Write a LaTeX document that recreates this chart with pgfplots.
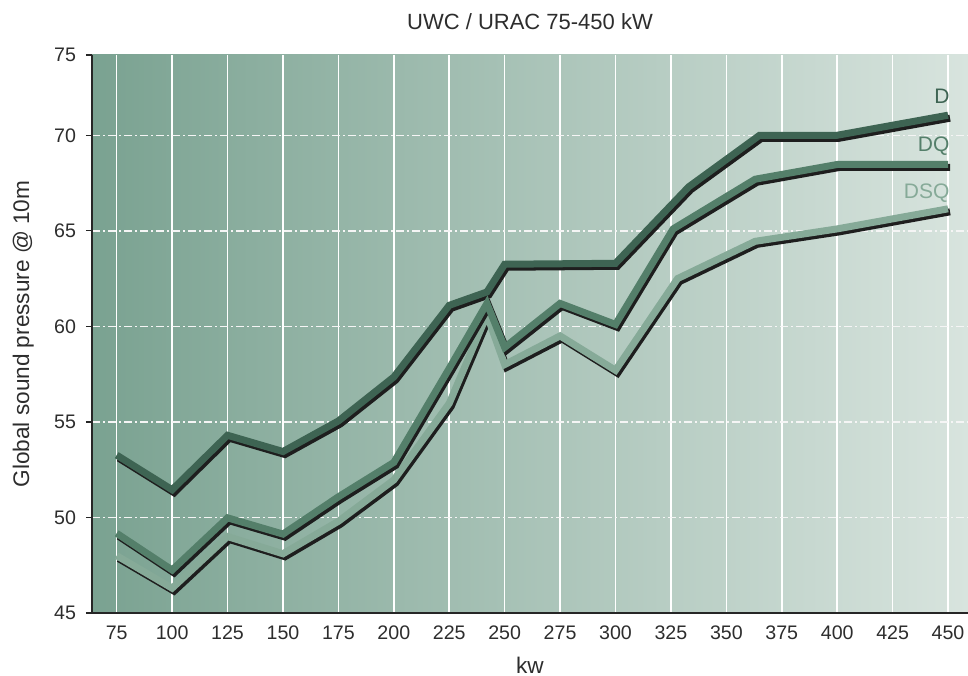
\documentclass[border=0pt]{standalone}
\usepackage{fontspec}
\setmainfont{Liberation Sans}
\usepackage{pgfplots}
\usepackage{pgfplotstable}
\pgfplotsset{compat=1.18}
\definecolor{bgl}{RGB}{122,162,145}
\definecolor{bgr}{RGB}{216,228,222}
\definecolor{cD}{RGB}{62,100,83}
\definecolor{cDQ}{RGB}{84,127,106}
\definecolor{cDSQ}{RGB}{134,170,152}
\definecolor{shad}{RGB}{30,30,30}
\definecolor{txt}{RGB}{45,45,45}

\pgfplotstableread{
x y
75 53.26
100 51.45
125 54.3
150 53.45
175 55.05
200 57.35
225 61.1
242 61.8
250 63.25
300 63.3
333 67.3
365 70.0
400 70.0
450 71.05
}\dataD

\pgfplotstableread{
x y
75 49.17
100 47.25
125 49.98
150 49.13
175 51.08
200 52.88
225 57.8
242 61.2
250 58.9
275 61.2
300 60.1
326 65.1
363 67.7
400 68.47
450 68.47
}\dataDQ

\pgfplotstableread{
x y
75 48.0
100 46.3
125 49.0
150 48.1
175 49.8
200 51.96
225 55.97
242 60.6
250 58.0
275 59.5
300 57.7
328 62.5
363 64.45
400 65.1
450 66.15
}\dataDSQ

\begin{document}
\begin{tikzpicture}
\begin{axis}[
  name=ax,
  scale only axis,
  width=438pt, height=279pt,
  xmin=63.86, xmax=459, ymin=45, ymax=74.2,
  axis lines=left,
  axis line style={-, draw=black!85, line width=1pt},
  axis background/.style={shade, left color=bgl, right color=bgr},
  xtick={75,100,...,450},
  ytick={45,50,...,70},
  extra y ticks={74.2}, extra y tick labels={75},
  extra y tick style={grid=none},
  xmajorgrids, ymajorgrids,
  x grid style={white, line width=0.75pt},
  y grid style={white!92!gray, line width=0.7pt, dash pattern=on 4pt off 1.5pt on 1pt off 1.5pt},
  xtick style={draw=none},
  ytick style={draw=black!85, line width=0.6pt},
  tick align=outside, major tick length=3pt,
  ticklabel style={font=\fontsize{9.8}{11}\selectfont, text=txt},
  yticklabel style={xshift=-1.5pt},
  /pgf/number format/assume math mode=true,
  every axis title shift=0pt,
  title={UWC / URAC 75-450 kW},
  title style={at={(axis description cs:0.5,1.0591)}, anchor=center, font=\fontsize{11}{13}\selectfont, text=txt},
  xlabel={kw},
  xlabel style={at={(axis description cs:0.5,-0.093)}, anchor=center, font=\fontsize{11.3}{13}\selectfont, text=txt},
  ylabel={Global sound pressure @ 10m},
  ylabel style={at={(axis description cs:-0.0785,0.5)}, anchor=center, font=\fontsize{11.3}{13}\selectfont, text=txt},
]
\addplot[shad, line width=3.5pt, line join=miter, xshift=1pt, yshift=-1.5pt] table {\dataD};
\addplot[cD, line width=3.5pt, line join=miter] table {\dataD};
\addplot[shad, line width=3.5pt, line join=miter, xshift=1pt, yshift=-1.5pt] table {\dataDSQ};
\addplot[cDSQ, line width=3.5pt, line join=miter] table {\dataDSQ};
\addplot[shad, line width=3.5pt, line join=miter, xshift=1pt, yshift=-1.5pt] table {\dataDQ};
\addplot[cDQ, line width=3.5pt, line join=miter] table {\dataDQ};
\node[anchor=east, inner sep=0pt, text=cD, font=\fontsize{10.5}{12}\selectfont] at (axis cs:450.8,72.04) {D};
\node[anchor=east, inner sep=0pt, text=cDQ, font=\fontsize{10.5}{12}\selectfont] at (axis cs:450.8,69.42) {DQ};
\node[anchor=east, inner sep=0pt, text=cDSQ, font=\fontsize{10.5}{12}\selectfont] at (axis cs:450.8,66.97) {DSQ};
\end{axis}
\pgfresetboundingbox
\path[use as bounding box] ([xshift=-46pt,yshift=-31pt]ax.south west) rectangle ([yshift=27.5pt]ax.north east);
\end{tikzpicture}
\end{document}
